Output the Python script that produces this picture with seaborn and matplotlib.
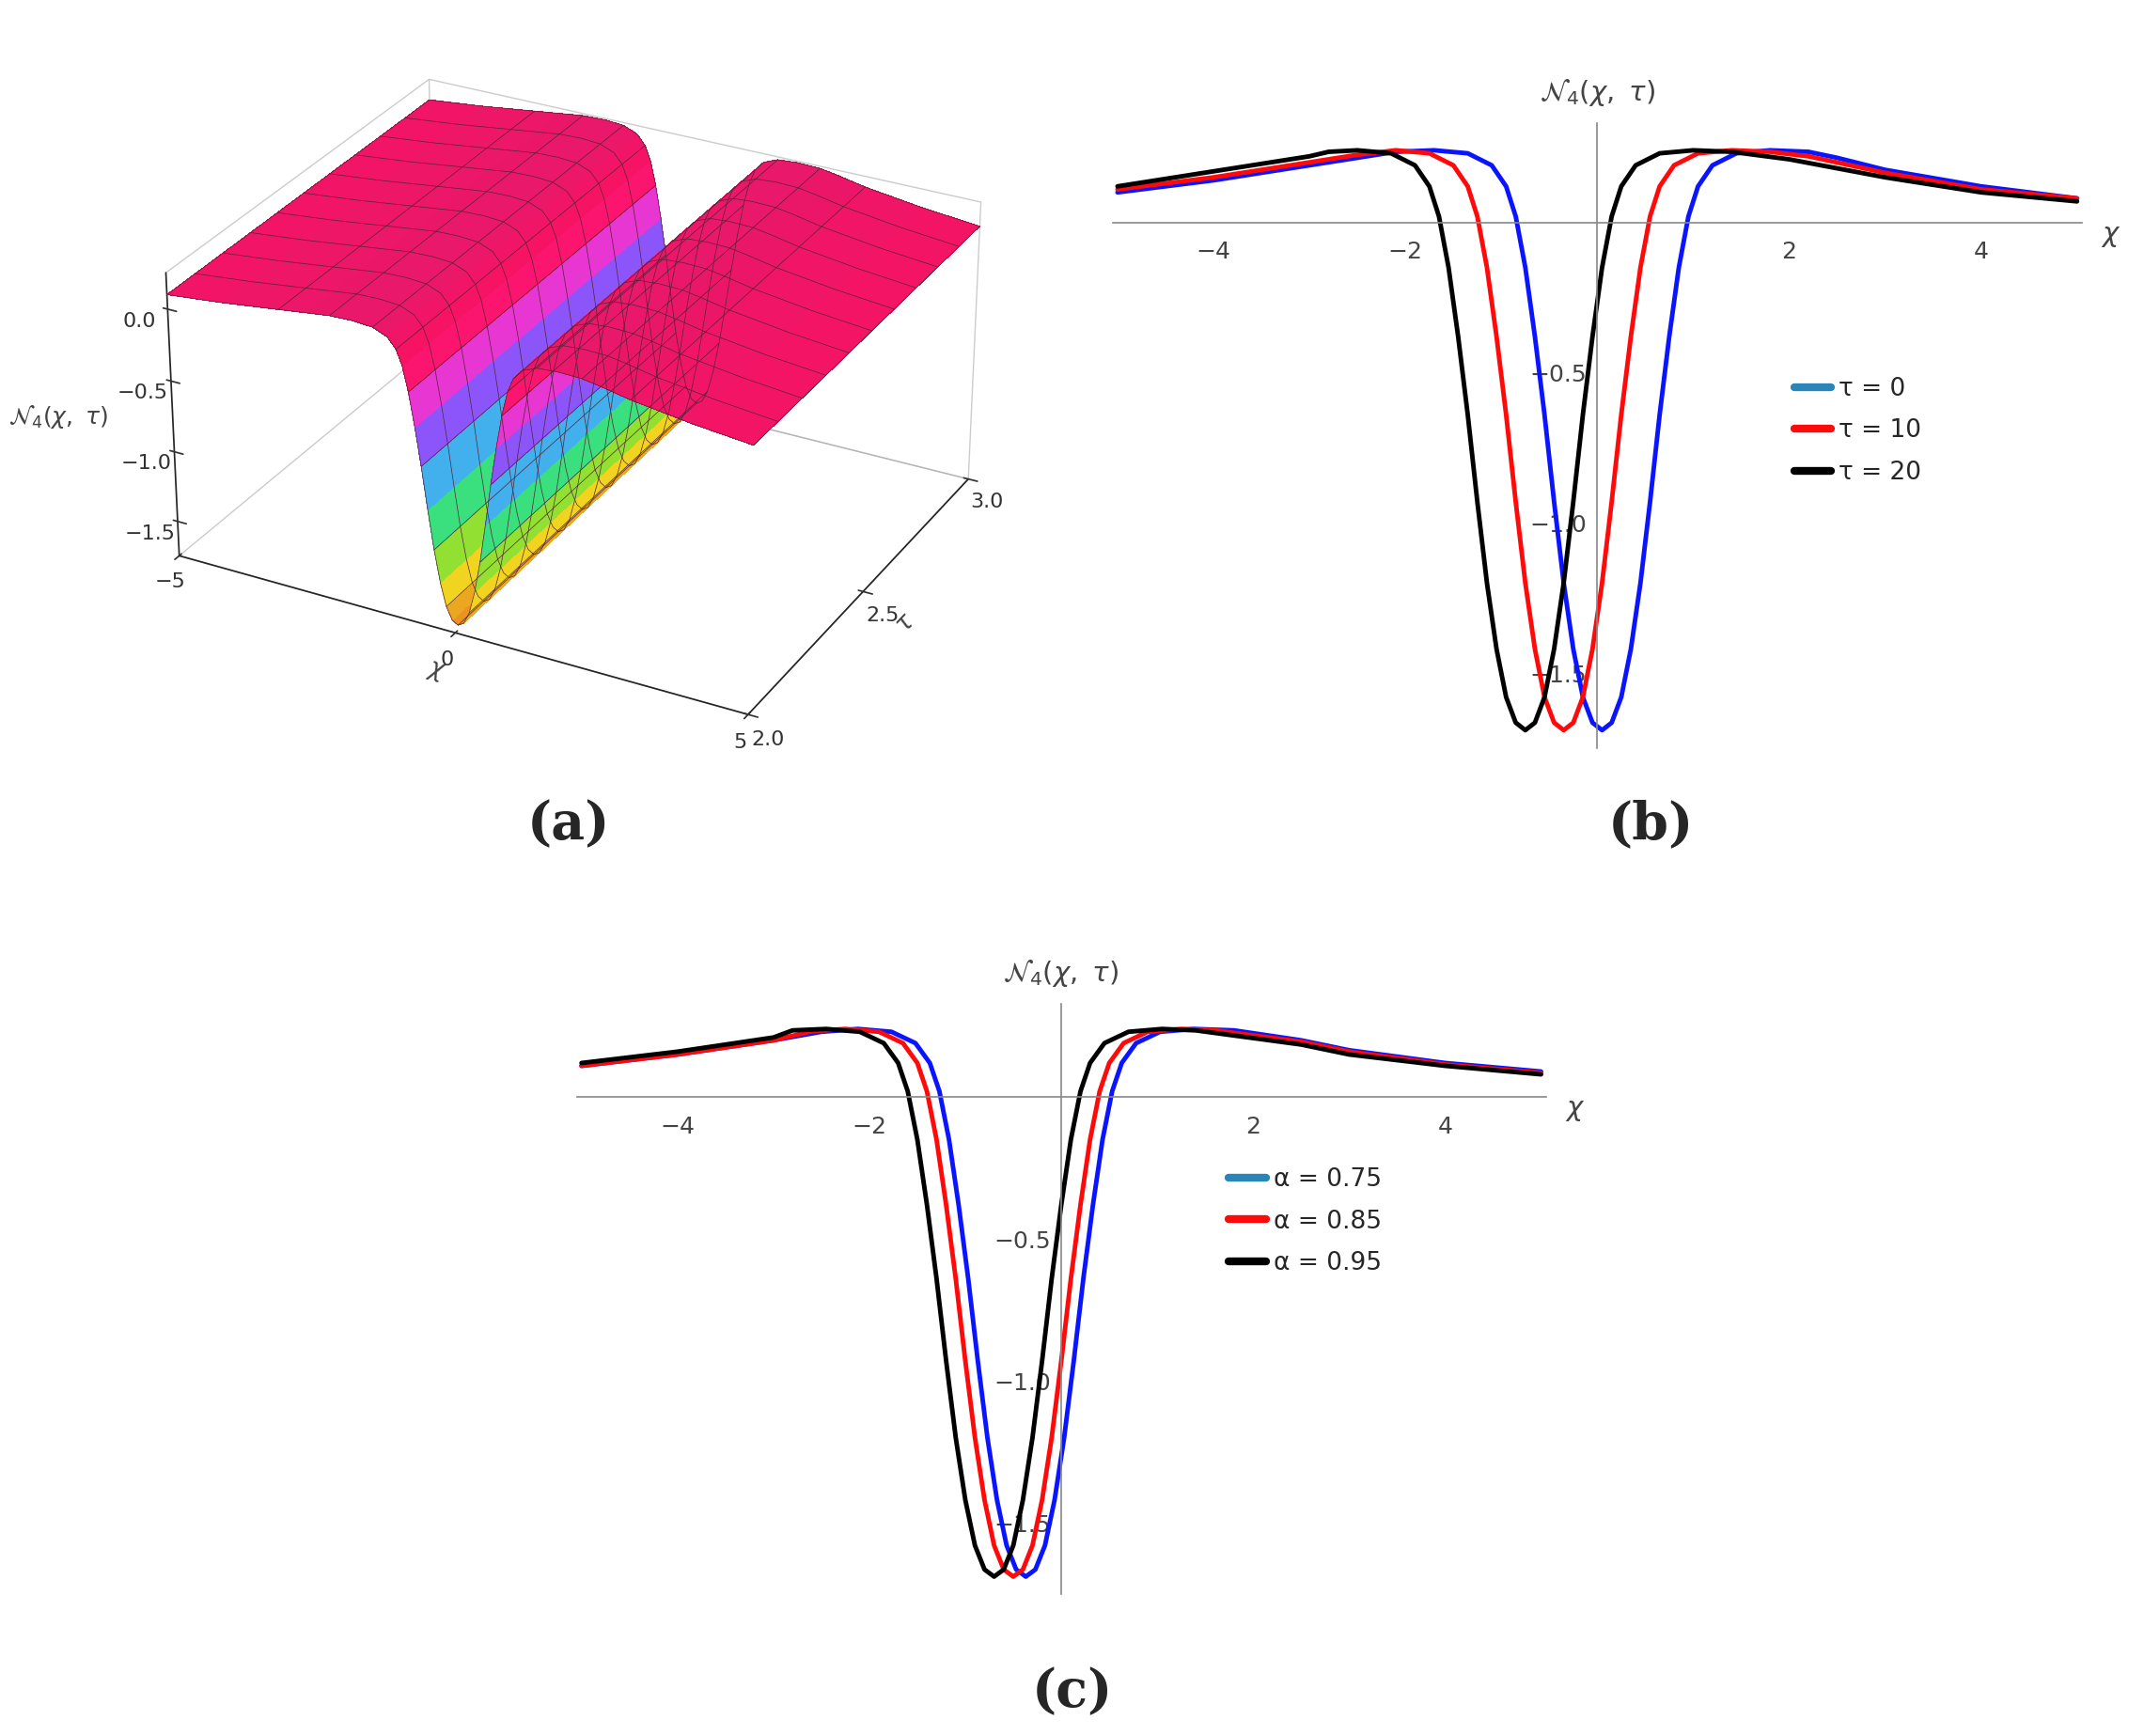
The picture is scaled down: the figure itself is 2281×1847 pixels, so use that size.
import numpy as np
import pandas as pd
import matplotlib
matplotlib.use("Agg")
import matplotlib.pyplot as plt
import seaborn as sns
from matplotlib.colors import LinearSegmentedColormap
from matplotlib.lines import Line2D

sns.set_theme(style="white")
plt.rcParams['font.family'] = ['DejaVu Sans']

# dip profile: offset from the minimum -> value
dip_offsets = [-1.75, -1.4, -1.15, -1.0, -0.9, -0.8, -0.7, -0.6, -0.5, -0.4, -0.3, -0.2, -0.1, 0.0,
               0.1, 0.2, 0.3, 0.4, 0.5, 0.6, 0.7, 0.8, 0.9, 1.0, 1.15, 1.4, 1.75]
dip_values = [0.24, 0.23, 0.19, 0.12, 0.02, -0.15, -0.38, -0.64, -0.93, -1.2, -1.42, -1.58, -1.665, -1.69,
              -1.665, -1.58, -1.42, -1.2, -0.93, -0.64, -0.38, -0.15, 0.02, 0.12, 0.19, 0.23, 0.24]

# ---- panel (b): tau = 0, 10, 20 ----
labels_b = ["τ = 0", "τ = 10", "τ = 20"]
centers_b = [0.05, -0.35, -0.75]
left_tail_b = [([-5, -4, -3, -2.5, -2.1], [0.10, 0.14, 0.19, 0.215, 0.235]),
               ([-5, -4, -3, -2.5], [0.11, 0.15, 0.20, 0.225]),
               ([-5, -4, -3, -2.8], [0.12, 0.17, 0.22, 0.235])]
right_tail_b = [([2.2, 2.5, 3, 4, 5], [0.235, 0.215, 0.175, 0.12, 0.08]),
                ([1.8, 2.2, 3, 4, 5], [0.235, 0.22, 0.165, 0.11, 0.08]),
                ([1.4, 2.0, 3, 4, 5], [0.235, 0.21, 0.15, 0.10, 0.07])]

# ---- panel (c): alpha = 0.75, 0.85, 0.95 ----
labels_c = ["α = 0.75", "α = 0.85", "α = 0.95"]
centers_c = [-0.37, -0.5, -0.7]
left_tail_c = [([-5, -4, -3, -2.5], [0.11, 0.15, 0.20, 0.23]),
               ([-5, -4, -3, -2.6], [0.11, 0.15, 0.20, 0.232]),
               ([-5, -4, -3, -2.8], [0.12, 0.16, 0.21, 0.235])]
right_tail_c = [([1.8, 2.5, 3, 4, 5], [0.235, 0.20, 0.165, 0.12, 0.09]),
                ([1.6, 2.5, 3, 4, 5], [0.235, 0.195, 0.16, 0.115, 0.085]),
                ([1.4, 2.5, 3, 4, 5], [0.235, 0.185, 0.15, 0.11, 0.08])]

# ---- panel (a): tau grid ----
tau_a = [2.0, 2.1, 2.2, 2.3, 2.4, 2.5, 2.6, 2.7, 2.8, 2.9, 3.0]

line_colors = ["#0a14ff", "#ff0a0a", "#000000"]
legend_colors = ["#2a86b8", "#ff0a0a", "#000000"]
gray = "#444444"


def build_curve(center, left, right):
    xs = list(left[0]) + [center + o for o in dip_offsets] + list(right[0])
    ys = list(left[1]) + list(dip_values) + list(right[1])
    order = np.argsort(xs)
    return np.array(xs)[order], np.array(ys)[order]


fig = plt.figure(figsize=(22.81, 18.47), dpi=100)


def style_axes(ax, ylim):
    ax.set_xlim(-5.05, 5.05)
    ax.set_ylim(*ylim)
    for s in ["top", "right"]:
        ax.spines[s].set_visible(False)
    ax.spines["left"].set_position(("data", 0))
    ax.spines["bottom"].set_position(("data", 0))
    for s in ["left", "bottom"]:
        ax.spines[s].set_color("#888888")
        ax.spines[s].set_linewidth(1.2)
    ax.set_xticks([-4, -2, 2, 4])
    ax.set_xticklabels(["−4", "−2", "2", "4"])
    ax.set_yticks([-0.5, -1.0, -1.5])
    ax.set_yticklabels(["−0.5", "−1.0", "−1.5"])
    ax.tick_params(axis="both", colors=gray, labelsize=18, direction="in", length=6, width=1, pad=8)
    ax.tick_params(axis="x", pad=14)
    ax.set_xlabel(""); ax.set_ylabel("")
    ax.text(5.25, 0, r"$\chi$", fontsize=21, color=gray, va="top", ha="left")
    ax.text(0, ylim[1] + 0.05, r"$\mathcal{N}_4(\chi,\ \tau)$", fontsize=21, color=gray, ha="center", va="bottom")


def draw_panel(ax, centers, lefts, rights, labels, ylim, leg_pos):
    frames = []
    for c, l, r, lab in zip(centers, lefts, rights, labels):
        x, y = build_curve(c, l, r)
        frames.append(pd.DataFrame({"x": x, "y": y, "s": lab}))
    df = pd.concat(frames)
    sns.lineplot(data=df, x="x", y="y", hue="s", palette=line_colors, linewidth=3.5,
                 ax=ax, legend=False, sort=False)
    style_axes(ax, ylim)
    handles = [Line2D([0], [0], color=c, lw=6) for c in legend_colors]
    ax.legend(handles, labels, loc="upper left", bbox_to_anchor=leg_pos, frameon=False,
              fontsize=19, handlelength=1.5, labelspacing=0.7, handletextpad=0.3)


axb = fig.add_axes([0.519, 0.569, 0.452, 0.36])
draw_panel(axb, centers_b, left_tail_b, right_tail_b, labels_b, (-1.75, 0.33), (0.68, 0.63))

axc = fig.add_axes([0.269, 0.082, 0.452, 0.34])
draw_panel(axc, centers_c, left_tail_c, right_tail_c, labels_c, (-1.75, 0.33), (0.65, 0.76))

# ---- panel (a): 3D surface ----
ax3 = fig.add_axes([0.0, 0.53, 0.53, 0.49], projection="3d")
xa, za = build_curve(centers_b[0], left_tail_b[0], right_tail_b[0])
X, T = np.meshgrid(xa, np.array(tau_a))
Z = np.tile(za, (len(tau_a), 1))
cmap = LinearSegmentedColormap.from_list(
    "mm", ["#e87a20", "#f2e020", "#40e040", "#30e0e0", "#6060ff", "#e040f0", "#ff1060", "#e8186a"])
ax3.plot_surface(X, T, Z, cmap=cmap, vmin=-1.75, vmax=0.25, rstride=1, cstride=1,
                 linewidth=0, antialiased=False, shade=True)
ax3.plot_wireframe(X, T, Z, rstride=1, cstride=2, color="#552233", linewidth=0.5)
ax3.view_init(elev=28, azim=-62)
ax3.set_xlim(-5, 5); ax3.set_ylim(2, 3); ax3.set_zlim(-1.75, 0.25)
ax3.set_xticks([-5, 0, 5]); ax3.set_yticks([2.0, 2.5, 3.0]); ax3.set_zticks([0.0, -0.5, -1.0, -1.5])
ax3.set_zticklabels(["0.0", "−0.5", "−1.0", "−1.5"])
ax3.set_xticklabels(["−5", "0", "5"])
ax3.zaxis._axinfo["juggled"] = (1, 2, 0)
for a in (ax3.xaxis, ax3.yaxis, ax3.zaxis):
    a.pane.fill = False
    a.pane.set_edgecolor("#999999")
    a._axinfo["grid"]["linewidth"] = 0
ax3.grid(False)
ax3.tick_params(colors="#333333", labelsize=16)
ax3.set_xlabel(r"$\chi$", fontsize=19, color=gray)
ax3.set_ylabel(r"$\tau$", fontsize=19, color=gray)
ax3.set_box_aspect((1.6, 1.3, 0.8))
fig.text(0.004, 0.76, r"$\mathcal{N}_4(\chi,\ \tau)$", fontsize=18, color=gray, ha="left", va="center")

for t, x, y in [("(a)", 0.265, 0.525), ("(b)", 0.77, 0.525), ("(c)", 0.5, 0.025)]:
    fig.text(x, y, t, fontsize=40, fontweight="bold", family="DejaVu Serif", ha="center", va="center")

fig.savefig("out.png", dpi=100)
